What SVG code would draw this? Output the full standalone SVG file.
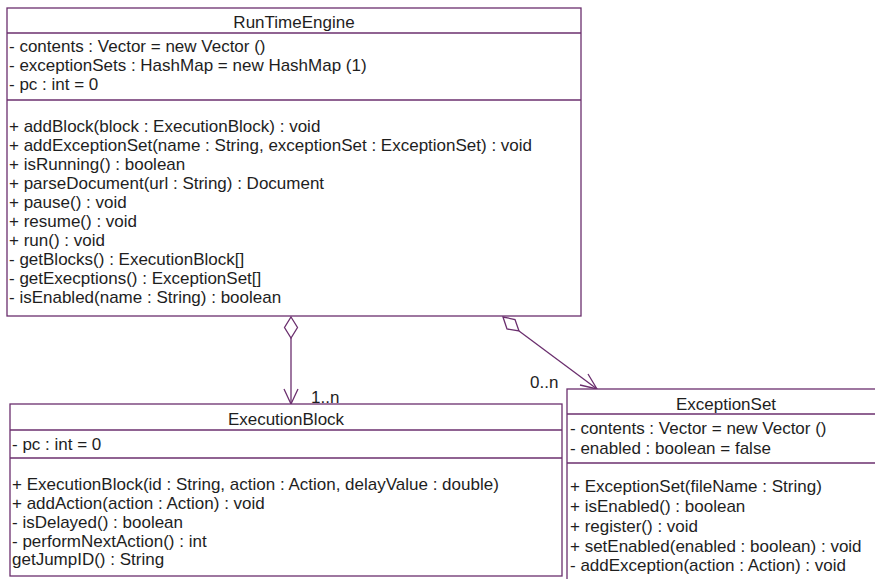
<svg xmlns="http://www.w3.org/2000/svg" width="875" height="579" viewBox="0 0 875 579">
<style>
.box{fill:#fff;stroke:#6b2f6e;stroke-width:1.3}
.ln{stroke:#6b2f6e;stroke-width:1.3;fill:none}
text{font-family:"Liberation Sans",Arial,sans-serif;font-size:17px;fill:#1e1e1e}
.t{text-anchor:middle}
</style>
<g id="connectors">
<polygon class="ln" points="291,317 297.5,327.5 291,338 284.5,327.5" fill="#fff"/>
<line class="ln" x1="291" y1="338" x2="291" y2="404"/>
<polyline class="ln" points="284,389 291,404 298,389"/>
<polygon class="ln" points="503,317 515,319.5 519,331 507,329" fill="#fff"/>
<line class="ln" x1="519" y1="331" x2="597" y2="389"/>
<polyline class="ln" points="580,385 597,389 588,374"/>
<text x="311" y="402.5">1..n</text>
<text x="530" y="388">0..n</text>
</g>
<g id="RunTimeEngine">
<rect class="box" x="7" y="8" width="574" height="308"/>
<line class="ln" x1="7" y1="33" x2="581" y2="33"/>
<line class="ln" x1="7" y1="100" x2="581" y2="100"/>
<text class="t" x="294" y="28">RunTimeEngine</text>
<text x="9" y="52">- contents : Vector = new Vector ()</text>
<text x="9" y="71">- exceptionSets : HashMap = new HashMap (1)</text>
<text x="9" y="90">- pc : int = 0</text>
<text x="9" y="132">+ addBlock(block : ExecutionBlock) : void</text>
<text x="9" y="151">+ addExceptionSet(name : String, exceptionSet : ExceptionSet) : void</text>
<text x="9" y="170">+ isRunning() : boolean</text>
<text x="9" y="189">+ parseDocument(url : String) : Document</text>
<text x="9" y="208">+ pause() : void</text>
<text x="9" y="227">+ resume() : void</text>
<text x="9" y="246">+ run() : void</text>
<text x="9" y="265">- getBlocks() : ExecutionBlock[]</text>
<text x="9" y="284">- getExecptions() : ExceptionSet[]</text>
<text x="9" y="303">- isEnabled(name : String) : boolean</text>
</g>
<g id="ExecutionBlock">
<rect class="box" x="10" y="404" width="552" height="172"/>
<line class="ln" x1="10" y1="430" x2="562" y2="430"/>
<line class="ln" x1="10" y1="458" x2="562" y2="458"/>
<text class="t" x="286" y="425">ExecutionBlock</text>
<text x="12" y="450">- pc : int = 0</text>
<text x="12" y="490">+ ExecutionBlock(id : String, action : Action, delayValue : double)</text>
<text x="12" y="509">+ addAction(action : Action) : void</text>
<text x="12" y="528">- isDelayed() : boolean</text>
<text x="12" y="547">- performNextAction() : int</text>
<text x="12" y="565">getJumpID() : String</text>
</g>
<g id="ExceptionSet">
<rect class="box" x="567" y="389" width="320" height="200"/>
<line class="ln" x1="567" y1="414" x2="887" y2="414"/>
<line class="ln" x1="567" y1="463" x2="887" y2="463"/>
<text class="t" x="726" y="410">ExceptionSet</text>
<text x="570" y="434">- contents : Vector = new Vector ()</text>
<text x="570" y="454">- enabled : boolean = false</text>
<text x="570" y="492">+ ExceptionSet(fileName : String)</text>
<text x="570" y="512">+ isEnabled() : boolean</text>
<text x="570" y="532">+ register() : void</text>
<text x="570" y="552">+ setEnabled(enabled : boolean) : void</text>
<text x="570" y="571">- addException(action : Action) : void</text>
</g>
</svg>
